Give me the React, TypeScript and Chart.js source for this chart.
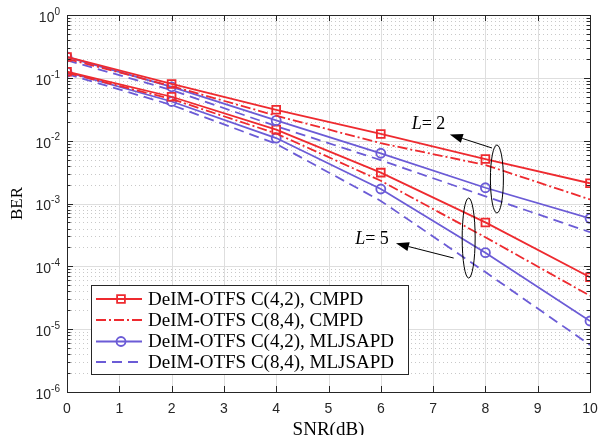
import React, { useEffect, useRef } from "react";
import { Chart, registerables } from "chart.js";

Chart.register(...registerables);

const snr = [0, 2, 4, 6, 8, 10];
const xTicks = [0, 1, 2, 3, 4, 5, 6, 7, 8, 9, 10];
const yExps = [0, -1, -2, -3, -4, -5, -6];

// L = 2
const cmpd42L2 = [0.215, 0.08, 0.031, 0.0128, 0.0051, 0.0021];
const cmpd84L2 = [0.2, 0.074, 0.025, 0.0091, 0.0041, 0.00116];
const mlj42L2 = [0.215, 0.072, 0.021, 0.0063, 0.00178, 0.00058];
const mlj84L2 = [0.19, 0.064, 0.017, 0.0049, 0.0013, 0.00035];
// L = 5
const cmpd42L5 = [0.125, 0.05, 0.015, 0.0031, 0.0005, 0.000067];
const cmpd84L5 = [0.12, 0.046, 0.013, 0.0023, 0.00029, 0.000034];
const mlj42L5 = [0.123, 0.042, 0.011, 0.0017, 0.000165, 0.0000135];
const mlj84L5 = [0.115, 0.037, 0.0089, 0.0011, 0.000081, 0.0000056];

const legendLabels = [
  "DeIM-OTFS C(4,2), CMPD",
  "DeIM-OTFS C(8,4), CMPD",
  "DeIM-OTFS C(4,2), MLJSAPD",
  "DeIM-OTFS C(8,4), MLJSAPD",
];

const RED = "#ee2a2f";
const BLUE = "#6b5bd6";
const DASHDOT = [10, 3, 2, 3];
const DASH = [10, 6];

type Style = { color: string; dash: number[]; marker: false | "rect" | "circle" };
const styles: Style[] = [
  { color: RED, dash: [], marker: "rect" },
  { color: RED, dash: DASHDOT, marker: false },
  { color: BLUE, dash: [], marker: "circle" },
  { color: BLUE, dash: DASH, marker: false },
];

const mk = (data: number[], s: Style) => ({
  data: snr.map((x, i) => ({ x, y: data[i] })),
  borderColor: s.color,
  backgroundColor: "rgba(0,0,0,0)",
  borderWidth: 1.8,
  borderDash: s.dash,
  pointStyle: s.marker || "circle",
  pointRadius: s.marker === "rect" ? 5.5 : s.marker === "circle" ? 4.5 : 0,
  pointBorderWidth: 1.8,
  pointBorderColor: s.color,
  pointBackgroundColor: "rgba(0,0,0,0)",
  tension: 0,
});

const drawMarker = (ctx: CanvasRenderingContext2D, s: Style, x: number, y: number) => {
  if (!s.marker) return;
  ctx.save();
  ctx.setLineDash([]);
  ctx.strokeStyle = s.color;
  ctx.lineWidth = 1.8;
  ctx.beginPath();
  if (s.marker === "rect") ctx.rect(x - 3.9, y - 3.9, 7.8, 7.8);
  else ctx.arc(x, y, 4.5, 0, Math.PI * 2);
  ctx.stroke();
  ctx.restore();
};

const arrow = (ctx: CanvasRenderingContext2D, x1: number, y1: number, x2: number, y2: number) => {
  const ang = Math.atan2(y2 - y1, x2 - x1);
  const hl = 13, hw = 4.5;
  const bx = x2 - hl * Math.cos(ang), by = y2 - hl * Math.sin(ang);
  ctx.beginPath();
  ctx.moveTo(x1, y1);
  ctx.lineTo(bx, by);
  ctx.stroke();
  ctx.beginPath();
  ctx.moveTo(x2, y2);
  ctx.lineTo(bx + hw * Math.sin(ang), by - hw * Math.cos(ang));
  ctx.lineTo(bx - hw * Math.sin(ang), by + hw * Math.cos(ang));
  ctx.closePath();
  ctx.fill();
};

const matlabPlugin = {
  id: "matlab",
  beforeDatasetsDraw(chart: any) {
    const { ctx, chartArea: a, scales } = chart;
    const xs = scales.x, ys = scales.y;
    ctx.save();
    ctx.fillStyle = "#ffffff";
    ctx.fillRect(a.left, a.top, a.right - a.left, a.bottom - a.top);
    ctx.strokeStyle = "#c8c8c8";
    ctx.lineWidth = 1;
    ctx.setLineDash([1, 3]);
    for (const e of yExps) {
      if (e === 0) continue;
      for (let k = 2; k <= 9; k++) {
        const y = Math.round(ys.getPixelForValue(k * Math.pow(10, e))) + 0.5;
        ctx.beginPath();
        ctx.moveTo(a.left, y);
        ctx.lineTo(a.right, y);
        ctx.stroke();
      }
    }
    ctx.setLineDash([]);
    ctx.strokeStyle = "#dedede";
    for (const e of yExps) {
      const y = Math.round(ys.getPixelForValue(Math.pow(10, e))) + 0.5;
      ctx.beginPath();
      ctx.moveTo(a.left, y);
      ctx.lineTo(a.right, y);
      ctx.stroke();
    }
    for (const t of xTicks) {
      const x = Math.round(xs.getPixelForValue(t)) + 0.5;
      ctx.beginPath();
      ctx.moveTo(x, a.top);
      ctx.lineTo(x, a.bottom);
      ctx.stroke();
    }
    ctx.restore();
  },
  afterDatasetsDraw(chart: any) {
    const { ctx, chartArea: a, scales } = chart;
    const xs = scales.x, ys = scales.y;
    ctx.save();
    // annotations
    ctx.strokeStyle = "#000";
    ctx.fillStyle = "#000";
    ctx.lineWidth = 1;
    const e1x = xs.getPixelForValue(8.22), e1y = ys.getPixelForValue(Math.pow(10, -2.61));
    ctx.beginPath();
    ctx.ellipse(e1x, e1y, 6.5, 34, 0, 0, Math.PI * 2);
    ctx.stroke();
    const e2x = xs.getPixelForValue(7.68), e2y = ys.getPixelForValue(Math.pow(10, -3.55));
    ctx.beginPath();
    ctx.ellipse(e2x, e2y, 6.5, 40, 0, 0, Math.PI * 2);
    ctx.stroke();
    arrow(ctx, e1x - 5, e1y - 31, xs.getPixelForValue(7.32), ys.getPixelForValue(Math.pow(10, -1.9)));
    arrow(ctx, e2x - 15, e2y + 20, xs.getPixelForValue(6.29), ys.getPixelForValue(Math.pow(10, -3.634)));
    ctx.textBaseline = "alphabetic";
    ctx.textAlign = "left";
    const lab = (x: number, y: number, n: string) => {
      ctx.font = "italic 18px 'Liberation Serif'";
      ctx.fillText("L", x, y);
      const w = ctx.measureText("L").width;
      ctx.font = "18px 'Liberation Serif'";
      ctx.fillText("= " + n, x + w, y);
    };
    lab(xs.getPixelForValue(6.59), ys.getPixelForValue(Math.pow(10, -1.815)), "2");
    lab(xs.getPixelForValue(5.51), ys.getPixelForValue(Math.pow(10, -3.645)), "5");

    // axes box
    ctx.strokeStyle = "#262626";
    ctx.lineWidth = 1;
    ctx.strokeRect(Math.round(a.left) + 0.5, Math.round(a.top) + 0.5, Math.round(a.right - a.left), Math.round(a.bottom - a.top));
    for (const e of yExps) {
      for (let k = 1; k <= 9; k++) {
        if (e === 0 && k > 1) continue;
        const y = Math.round(ys.getPixelForValue(k * Math.pow(10, e))) + 0.5;
        const len = k === 1 ? 6 : 3.5;
        ctx.beginPath();
        ctx.moveTo(a.left, y);
        ctx.lineTo(a.left + len, y);
        ctx.moveTo(a.right, y);
        ctx.lineTo(a.right - len, y);
        ctx.stroke();
      }
    }
    for (const t of xTicks) {
      const x = Math.round(xs.getPixelForValue(t)) + 0.5;
      ctx.beginPath();
      ctx.moveTo(x, a.bottom);
      ctx.lineTo(x, a.bottom - 6);
      ctx.moveTo(x, a.top);
      ctx.lineTo(x, a.top + 6);
      ctx.stroke();
    }
    // tick labels
    ctx.fillStyle = "#262626";
    ctx.textBaseline = "middle";
    for (const e of yExps) {
      const y = ys.getPixelForValue(Math.pow(10, e));
      const ex = String(e);
      ctx.font = "10px 'Liberation Sans'";
      const ew = ctx.measureText(ex).width;
      ctx.textAlign = "left";
      const right = a.left - 7;
      ctx.fillText(ex, right - ew, y - 3);
      ctx.font = "14px 'Liberation Sans'";
      ctx.textAlign = "right";
      ctx.fillText("10", right - ew, y + 3);
    }
    ctx.textAlign = "center";
    ctx.font = "14px 'Liberation Sans'";
    for (const t of xTicks) {
      ctx.fillText(String(t), xs.getPixelForValue(t), a.bottom + 17);
    }
    // axis titles
    ctx.fillStyle = "#000";
    ctx.font = "19px 'Liberation Serif'";
    ctx.textBaseline = "alphabetic";
    ctx.fillText("SNR(dB)", (a.left + a.right) / 2, a.bottom + 43);
    ctx.save();
    ctx.font = "17px 'Liberation Serif'";
    ctx.translate(22, (a.top + a.bottom) / 2);
    ctx.rotate(-Math.PI / 2);
    ctx.fillText("BER", 0, 0);
    ctx.restore();

    // legend
    const lx = 91, ly = 285, lw = 317, lh = 89;
    ctx.fillStyle = "#fff";
    ctx.fillRect(lx, ly, lw, lh);
    ctx.strokeStyle = "#262626";
    ctx.lineWidth = 1;
    ctx.strokeRect(lx + 0.5, ly + 0.5, lw, lh);
    const rows = [299, 320, 341.5, 362];
    ctx.font = "19px 'Liberation Serif'";
    ctx.textAlign = "left";
    ctx.textBaseline = "middle";
    styles.forEach((s, i) => {
      const ry = rows[i];
      ctx.strokeStyle = s.color;
      ctx.lineWidth = 1.8;
      ctx.setLineDash(s.dash);
      ctx.beginPath();
      ctx.moveTo(96, ry);
      ctx.lineTo(142, ry);
      ctx.stroke();
      ctx.setLineDash([]);
      drawMarker(ctx, s, 121, ry);
      ctx.fillStyle = "#000";
      ctx.fillText(legendLabels[i], 148, ry + 1);
    });
    ctx.restore();
  },
};

export default function App() {
  const ref = useRef<HTMLCanvasElement>(null);
  useEffect(() => {
    if (!ref.current) return;
    const chart = new Chart(ref.current, {
      type: "line",
      data: {
        datasets: [
          mk(cmpd42L2, styles[0]),
          mk(cmpd84L2, styles[1]),
          mk(mlj42L2, styles[2]),
          mk(mlj84L2, styles[3]),
          mk(cmpd42L5, styles[0]),
          mk(cmpd84L5, styles[1]),
          mk(mlj42L5, styles[2]),
          mk(mlj84L5, styles[3]),
        ],
      },
      options: {
        responsive: false,
        animation: false,
        layout: { padding: { left: 67, top: 15, right: 8, bottom: 43 } },
        plugins: { legend: { display: false }, tooltip: { enabled: false } },
        scales: {
          x: { type: "linear", min: 0, max: 10, display: false },
          y: { type: "logarithmic", min: 1e-6, max: 1, display: false },
        },
      },
      plugins: [matlabPlugin],
    } as any);
    return () => chart.destroy();
  }, []);
  return (
    <div style={{ position: "absolute", left: 0, top: 0, width: 598, height: 435, background: "#fff" }}>
      <canvas ref={ref} width={598} height={435} />
    </div>
  );
}
